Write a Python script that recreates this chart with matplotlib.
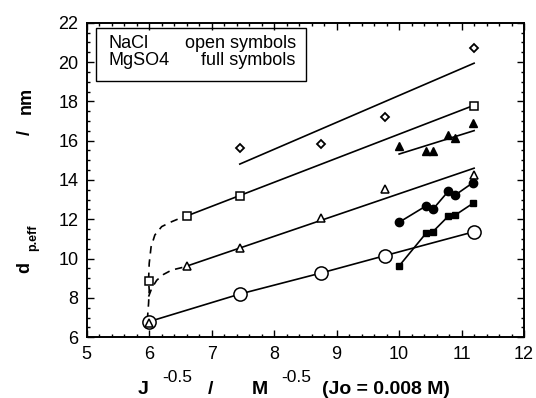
import numpy as np
import matplotlib.pyplot as plt
from matplotlib.ticker import MultipleLocator
from matplotlib.patches import Rectangle

plt.rcParams['font.family'] = ['Liberation Sans', 'DejaVu Sans']

# NaCl (open symbols)
circ_open_x = [6.0, 7.45, 8.75, 9.77, 11.2]
circ_open_y = [6.8, 8.2, 9.27, 10.15, 11.37]
tri_open_x = [6.0, 6.6, 7.45, 8.75, 9.77, 11.2]
tri_open_y = [6.75, 9.62, 10.56, 12.08, 13.53, 14.26]
sq_open_x = [6.0, 6.6, 7.45, 11.2]
sq_open_y = [8.88, 12.17, 13.19, 17.77]
dia_open_x = [7.45, 8.75, 9.77, 11.2]
dia_open_y = [15.64, 15.82, 17.19, 20.7]

# MgSO4 (full symbols)
mg_x = [10.0, 10.43, 10.54, 10.79, 10.9, 11.18]
tri_full_y = [15.75, 15.49, 15.49, 16.29, 16.12, 16.92]
circ_full_y = [11.85, 12.68, 12.51, 13.44, 13.24, 13.86]
sq_full_y = [9.63, 11.29, 11.37, 12.17, 12.22, 12.81]

# straight fit lines
dia_fit_x, dia_fit_y = [7.45, 11.2], [14.81, 19.94]
sq_fit_x, sq_fit_y = [6.6, 11.2], [12.17, 17.8]
tri_fit_x, tri_fit_y = [6.6, 11.2], [9.62, 14.6]
trif_fit_x, trif_fit_y = [10.0, 11.2], [15.32, 16.51]

# hand drawn dashed guides
dash1_x = [5.97, 5.99, 6.0, 5.99, 6.0, 6.03, 6.09, 6.2, 6.36, 6.58]
dash1_y = [6.88, 7.73, 8.4, 8.9, 9.76, 10.6, 11.2, 11.63, 11.88, 12.17]
dash2_x = [5.99, 6.04, 6.12, 6.23, 6.36, 6.58]
dash2_y = [8.07, 8.49, 8.9, 9.2, 9.42, 9.59]

fig = plt.figure(figsize=(5.36, 3.98), dpi=100)
ax = fig.add_axes([0.1618, 0.1525, 0.816, 0.7905])

lw = 1.2
k = 'black'
ax.plot(dash1_x, dash1_y, color=k, lw=lw, ls=(0, (4.5, 3.5)))
ax.plot(dash2_x, dash2_y, color=k, lw=lw, ls=(0, (4.5, 3.5)))

ax.plot(dia_fit_x, dia_fit_y, color=k, lw=lw)
ax.plot(sq_fit_x, sq_fit_y, color=k, lw=lw)
ax.plot(tri_fit_x, tri_fit_y, color=k, lw=lw)
ax.plot(trif_fit_x, trif_fit_y, color=k, lw=lw)
ax.plot(circ_open_x, circ_open_y, color=k, lw=lw)
ax.plot(mg_x, circ_full_y, color=k, lw=lw)
ax.plot(mg_x, sq_full_y, color=k, lw=lw)

ax.plot(circ_open_x, circ_open_y, 'o', ms=9.5, mfc='white', mec=k, mew=1.1, zorder=3)
ax.plot(tri_open_x, tri_open_y, '^', ms=6, mfc='white', mec=k, mew=1.1, zorder=4)
ax.plot(sq_open_x, sq_open_y, 's', ms=5.5, mfc='white', mec=k, mew=1.1, zorder=4)
ax.plot(dia_open_x, dia_open_y, 'D', ms=4, mfc='white', mec=k, mew=1.3, zorder=4)
ax.plot(mg_x, tri_full_y, '^', ms=6, color=k, zorder=4)
ax.plot(mg_x, circ_full_y, 'o', ms=6, color=k, zorder=4)
ax.plot(mg_x, sq_full_y, 's', ms=5, color=k, zorder=4)

ax.set_xlim(5, 12)
ax.set_ylim(6, 22)
ax.xaxis.set_major_locator(MultipleLocator(1))
ax.xaxis.set_minor_locator(MultipleLocator(0.2))
ax.yaxis.set_major_locator(MultipleLocator(2))
ax.yaxis.set_minor_locator(MultipleLocator(0.5))
ax.tick_params(which='both', direction='in', top=True, right=True, width=1)
ax.tick_params(which='major', length=5, labelsize=13, pad=6)
ax.tick_params(which='minor', length=2.5)
for s in ax.spines.values():
    s.set_linewidth(1.4)

# legend box
fig.add_artist(Rectangle((0.1791, 0.797), 0.3918, 0.1324, transform=fig.transFigure,
                         fill=False, ec=k, lw=1))
fig.text(0.2015, 0.8907, 'NaCl', fontsize=13, va='center', ha='left')
fig.text(0.2015, 0.849, 'MgSO4', fontsize=13, va='center', ha='left')
fig.text(0.552, 0.8907, 'open symbols', fontsize=13, va='center', ha='right')
fig.text(0.552, 0.849, 'full symbols', fontsize=13, va='center', ha='right')

# x label pieces
fig.text(0.2668, 0.0088, 'J', fontsize=14, weight='bold', ha='center', va='baseline')
fig.text(0.331, 0.0402, '-0.5', fontsize=12.5, ha='center', va='baseline')
fig.text(0.392, 0.0088, '/', fontsize=14, weight='bold', ha='center', va='baseline')
fig.text(0.485, 0.0088, 'M', fontsize=14, weight='bold', ha='center', va='baseline')
fig.text(0.552, 0.0402, '-0.5', fontsize=12.5, ha='center', va='baseline')
fig.text(0.601, 0.0088, '(Jo = 0.008 M)', fontsize=14, weight='bold', ha='left', va='baseline')

# y label pieces
fig.text(0.0466, 0.329, 'd', fontsize=13, weight='bold', rotation=90, ha='center', va='center')
fig.text(0.0616, 0.402, 'p.eff', fontsize=9, weight='bold', rotation=90, ha='center', va='center')
fig.text(0.0466, 0.667, '/', fontsize=13, weight='bold', rotation=90, ha='center', va='center')
fig.text(0.0485, 0.747, 'nm', fontsize=13, weight='bold', rotation=90, ha='center', va='center')

fig.savefig('out.png', dpi=100)
